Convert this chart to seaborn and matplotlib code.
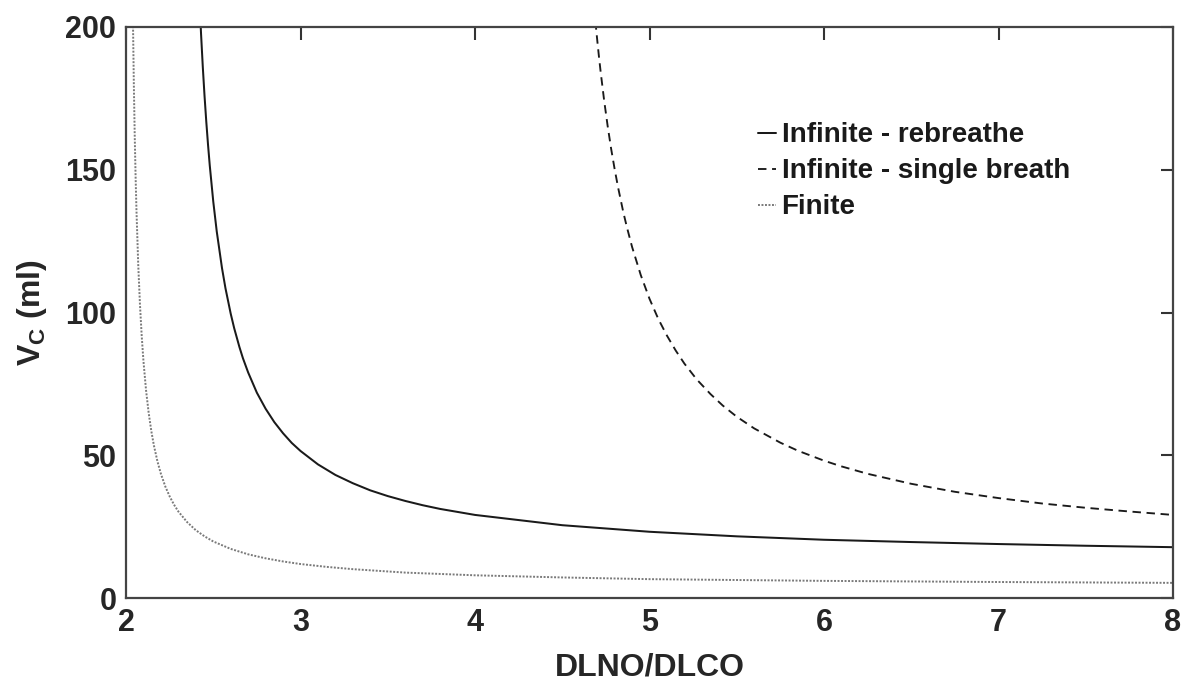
import numpy as np
import pandas as pd
import matplotlib
matplotlib.use("Agg")
import matplotlib.pyplot as plt
import seaborn as sns

# ---- data ----
x_rebreathe = [2.42, 2.43, 2.44, 2.45, 2.46, 2.47, 2.48, 2.50, 2.52, 2.55, 2.57, 2.60,
               2.62, 2.65, 2.67, 2.70, 2.75, 2.80, 2.85, 2.90, 2.95, 3.00, 3.10, 3.20,
               3.30, 3.40, 3.50, 3.60, 3.70, 3.80, 4.00, 4.50, 5.00, 5.50, 6.00, 6.50,
               7.00, 7.50, 8.00]
y_rebreathe = [211, 197.7, 186.1, 175.9, 166.9, 158.8, 151.5, 138.9, 128.4, 115.6, 108.5,
               99.6, 94.5, 87.9, 84.0, 79.0, 71.9, 66.3, 61.6, 57.7, 54.3, 51.5, 46.8,
               43.1, 40.2, 37.7, 35.7, 34.0, 32.5, 31.2, 29.1, 25.5, 23.2, 21.6, 20.4,
               19.6, 18.9, 18.3, 17.8]

x_single = [4.69, 4.70, 4.71, 4.72, 4.74, 4.76, 4.78, 4.80, 4.82, 4.85, 4.87, 4.90,
            4.95, 5.00, 5.05, 5.10, 5.15, 5.20, 5.27, 5.35, 5.42, 5.50, 5.60, 5.75,
            5.85, 6.00, 6.10, 6.25, 6.50, 6.75, 7.00, 7.25, 7.50, 7.75, 8.00]
y_single = [202, 195.7, 189.8, 184.3, 174.3, 165.4, 157.4, 150.3, 143.8, 135.1, 130.0,
            123.0, 113.1, 104.8, 97.8, 91.9, 86.7, 82.1, 76.6, 71.4, 67.4, 63.5, 59.4,
            54.4, 51.6, 48.1, 46.1, 43.5, 40.0, 37.2, 35.0, 33.1, 31.6, 30.3, 29.1]

x_finite = [2.04, 2.045, 2.05, 2.055, 2.06, 2.07, 2.08, 2.09, 2.10, 2.115, 2.13, 2.145,
            2.16, 2.18, 2.20, 2.225, 2.25, 2.275, 2.30, 2.35, 2.40, 2.45, 2.50, 2.60,
            2.70, 2.80, 2.90, 3.00, 3.15, 3.30, 3.60, 4.00, 4.50, 5.00, 6.00, 7.00, 8.00]
y_finite = [201.5, 179.6, 162.0, 147.6, 135.7, 116.9, 102.8, 91.8, 83.0, 72.7, 64.8, 58.5,
            53.4, 47.9, 43.5, 39.1, 35.6, 32.7, 30.3, 26.6, 23.75, 21.6, 19.8, 17.2,
            15.3, 13.9, 12.8, 11.9, 10.9, 10.1, 8.9, 7.95, 7.2, 6.6, 6.0, 5.6, 5.3]

labels = ["Infinite - rebreathe", "Infinite - single breath", "Finite"]
x_ticks = [2, 3, 4, 5, 6, 7, 8]
y_ticks = [0, 50, 100, 150, 200]

sns.set_style("white")
plt.rcParams["font.family"] = ["Liberation Sans", "DejaVu Sans"]
plt.rcParams["font.weight"] = "bold"
plt.rcParams["mathtext.fontset"] = "custom"
plt.rcParams["mathtext.rm"] = "Liberation Sans:bold"
plt.rcParams["mathtext.bf"] = "Liberation Sans:bold"

fig = plt.figure(figsize=(11.85, 6.88), dpi=100)
ax = fig.add_axes([126 / 1185, 1 - 598 / 688, (1173 - 126) / 1185, (598 - 27) / 688])

df_r = pd.DataFrame({"x": x_rebreathe, "y": y_rebreathe})
df_s = pd.DataFrame({"x": x_single, "y": y_single})
df_f = pd.DataFrame({"x": x_finite, "y": y_finite})

sns.lineplot(data=df_r, x="x", y="y", ax=ax, color="#1a1a1a", lw=1.45,
             sort=False, estimator=None, label=labels[0])
sns.lineplot(data=df_s, x="x", y="y", ax=ax, color="#1a1a1a", lw=1.35,
             sort=False, estimator=None, label=labels[1], linestyle=(0, (4.5, 3)))
sns.lineplot(data=df_f, x="x", y="y", ax=ax, color="#7a7a7a", lw=1.4,
             sort=False, estimator=None, label=labels[2], linestyle=(0, (1, 0.8)))

ax.set_xlim(2, 8)
ax.set_ylim(0, 200)
ax.set_xticks(x_ticks)
ax.set_yticks(y_ticks)
ax.tick_params(direction="in", length=9, width=1.5, top=True, right=True,
               labelsize=22, pad=7, color="#333333")
for lab in ax.get_xticklabels() + ax.get_yticklabels():
    lab.set_fontweight("bold")
for sp in ax.spines.values():
    sp.set_visible(True)
    sp.set_linewidth(1.6)
    sp.set_color("#444444")

ax.set_xlabel("DLNO/DLCO", fontsize=23, fontweight="bold", labelpad=11)
ax.set_ylabel(r"V$_\mathrm{C}$ (ml)", fontsize=23, fontweight="bold", labelpad=12)

leg = ax.legend(loc="upper left", bbox_to_anchor=(0.6036, 0.833), frameon=False,
                fontsize=20, handlelength=0.65, handletextpad=0.2, labelspacing=0.36,
                borderpad=0, borderaxespad=0)
for t in leg.get_texts():
    t.set_fontweight("bold")
    t.set_color("#1a1a1a")

fig.savefig("out.png", dpi=100, facecolor="white")
